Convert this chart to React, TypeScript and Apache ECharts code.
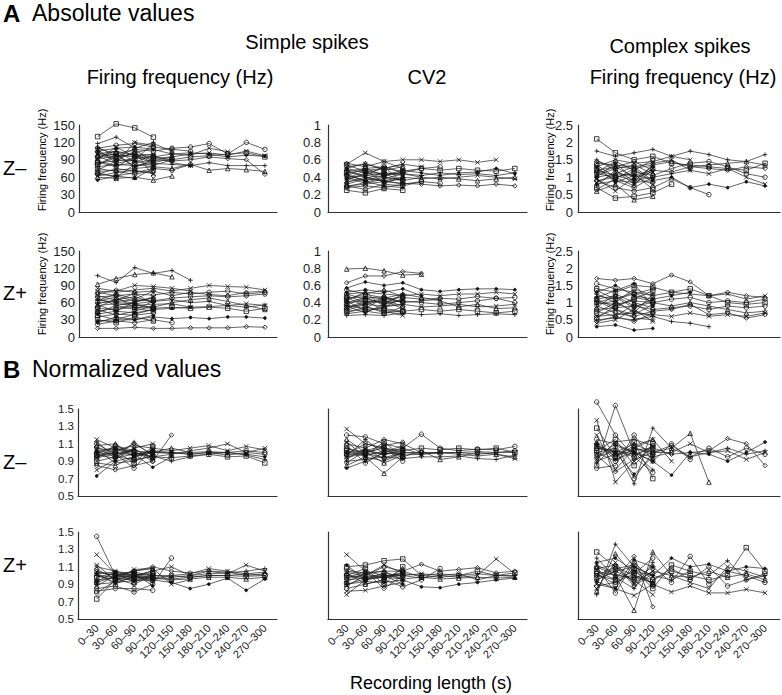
import React, { useEffect, useRef } from 'react';
import * as echarts from 'echarts';

const categories = ['0–30', '30–60', '60–90', '90–120', '120–150', '150–180', '180–210', '210–240', '240–270', '270–300'];

// A: absolute values, simple spikes firing frequency (Hz), Z−
const absSsFreqZminus: number[][] = [
  [95, 100, 108, 105, 110, 112, 118, 100, 120, 108],
  [100, 98, 95, 92, 95, 100, 102, 98, 105, 97],
  [85, 88, 92, 95, 90, 95, 97, 100, 102, 95],
  [78, 82, 80, 84, 82, 80, 85, 80, 80, 80],
  [70, 72, 75, 78, 75, 82, 72, 75, 73, 70],
  [88, 80, 85, 90, 88, 90, 95, 92, 90, 65],
  [105, 110, 112, 108, 100, 102, 100, 95, 98, 96],
  [92, 96, 100, 98, 85, 80],
  [110, 115, 118, 112, 108, 105],
  [65, 62, 68, 75, 72, 82],
  [100, 105, 98, 95, 100, 98, 110, 104],
  [130, 152, 145, 129],
  [118, 129, 110, 120],
  [60, 58, 60, 55, 62],
  [65, 75, 70, 68],
  [100, 90, 88, 80, 90],
  [108, 85, 120, 115],
  [75, 70, 65, 72],
  [82, 95, 100, 85, 92],
  [90, 112, 95, 100],
  [68, 60, 82, 78],
  [110, 100, 78, 88, 95],
  [96, 84, 90, 118, 105],
  [72, 88, 105, 62],
  [55, 62, 58, 75],
  [62, 68, 72, 66],
  [104, 92, 102, 110],
  [86, 78, 96, 84],
  [94, 106, 86, 98],
  [80, 100, 76, 92],
  [112, 96, 108, 86],
];

// A: simple spikes CV2, Z−
const absSsCv2Zminus: number[][] = [
  [0.55, 0.68, 0.58, 0.6, 0.6, 0.58, 0.6, 0.57, 0.6],
  [0.45, 0.48, 0.5, 0.47, 0.5, 0.48, 0.5, 0.48, 0.47, 0.5],
  [0.4, 0.42, 0.45, 0.44, 0.42, 0.45, 0.43, 0.44, 0.42, 0.45],
  [0.35, 0.38, 0.36, 0.4, 0.38, 0.4, 0.38, 0.36, 0.38, 0.4],
  [0.3, 0.32, 0.35, 0.33, 0.32, 0.3, 0.31, 0.3, 0.32, 0.3],
  [0.5, 0.45, 0.42, 0.48, 0.45, 0.42, 0.45, 0.46, 0.5, 0.44],
  [0.38, 0.42, 0.4, 0.36, 0.4, 0.38, 0.4, 0.42, 0.4, 0.38],
  [0.42, 0.5, 0.52, 0.45, 0.5, 0.52],
  [0.28, 0.3, 0.28, 0.32, 0.35, 0.33],
  [0.52, 0.55, 0.5, 0.55, 0.52],
  [0.25, 0.22, 0.27, 0.25],
  [0.48, 0.4, 0.35, 0.38],
  [0.32, 0.38, 0.45, 0.42],
  [0.56, 0.52, 0.58, 0.5],
  [0.44, 0.35, 0.3, 0.28],
  [0.36, 0.45, 0.5, 0.55],
  [0.3, 0.26, 0.32, 0.3, 0.35],
  [0.47, 0.5, 0.42, 0.45],
  [0.4, 0.33, 0.38, 0.44, 0.4],
  [0.54, 0.47, 0.44, 0.36],
  [0.34, 0.4, 0.36, 0.32],
  [0.5, 0.56, 0.48, 0.52],
  [0.42, 0.36, 0.42, 0.46],
  [0.38, 0.48, 0.33, 0.4],
  [0.46, 0.42, 0.52, 0.34],
  [0.29, 0.34, 0.4, 0.37],
];

// A: complex spikes firing frequency (Hz), Z−
const absCsFreqZminus: number[][] = [
  [2.1, 1.7, 1.5, 1.6, 1.4, 1.35, 1.3, 1.25, 1.2, 1.4],
  [1.75, 1.6, 1.7, 1.8, 1.6, 1.75, 1.65, 1.5, 1.45, 1.65],
  [1.2, 1.3, 1.25, 1.35, 1.45, 1.3, 1.35, 1.4, 1.45, 1.35],
  [1.0, 1.1, 1.05, 1.2, 1.15, 1.3, 1.25, 1.2, 1.3, 1.25],
  [0.8, 0.9, 0.85, 0.9, 1.0, 0.7, 0.8, 0.7, 0.87, 0.75],
  [1.4, 1.35, 1.3, 1.4, 1.5, 1.2, 1.1, 1.25, 1.0, 0.8],
  [1.1, 1.0, 1.15, 1.05, 1.25, 1.4, 1.45, 1.3, 1.1, 1.0],
  [0.9, 0.7, 0.6, 0.7, 0.95, 0.7, 0.5],
  [1.3, 1.5, 1.4, 1.45, 1.6, 1.5],
  [0.7, 0.4, 0.45, 0.55, 0.8],
  [1.5, 1.2, 0.9, 1.0, 1.1, 1.2],
  [0.6, 0.8, 0.35, 0.45],
  [1.45, 1.3, 1.45, 1.2],
  [1.0, 1.4, 0.95, 1.3],
  [0.85, 1.1, 1.3, 0.9],
  [1.25, 0.9, 0.7, 1.0],
  [1.15, 1.45, 1.2, 1.5],
  [0.95, 0.6, 1.0, 0.8],
  [1.35, 1.0, 1.1, 0.65],
  [0.75, 1.2, 0.8, 1.2],
  [1.05, 1.25, 1.35, 1.1],
  [0.9, 1.0, 0.75, 1.4],
  [1.3, 0.85, 1.05, 0.95],
  [1.1, 1.3, 1.0, 1.15],
  [0.65, 0.95, 1.25, 0.85],
  [1.2, 1.05, 0.9, 1.25],
];

// A: simple spikes firing frequency (Hz), Z+
const absSsFreqZplus: number[][] = [
  [107, 95, 121, 111, 116, 99],
  [92, 102, 109, 112, 105],
  [15, 15, 17, 15, 15, 16, 16, 16, 18, 17],
  [28, 30, 30, 35, 32, 34, 32, 35, 35, 33],
  [80, 78, 82, 85, 80, 85, 90, 88, 87, 82],
  [70, 72, 75, 73, 78, 75, 78, 80, 75, 78],
  [60, 62, 65, 63, 68, 70, 72, 70, 72, 75],
  [55, 58, 55, 57, 58, 52, 53, 55, 58, 55],
  [50, 48, 52, 50, 52, 50, 52, 50, 45, 50],
  [65, 60, 58, 62, 65, 60, 62, 55, 52, 56],
  [45, 50, 55, 52, 60, 65, 68, 62, 55, 48],
  [75, 82, 78, 80, 72, 78, 74, 72, 78, 80],
  [40, 45, 42, 48, 50, 52],
  [85, 80, 90, 88, 85, 80],
  [22, 28, 25, 30, 25],
  [35, 40, 38, 42],
  [68, 55, 60, 70],
  [30, 25, 35, 28],
  [58, 65, 70, 60],
  [48, 38, 45, 55],
  [78, 72, 62, 68],
  [25, 35, 30, 38],
  [62, 70, 50, 45],
  [52, 66, 58, 50],
  [42, 55, 48, 62],
  [72, 64, 76, 58],
  [38, 30, 40, 48],
  [64, 75, 66, 80],
  [56, 45, 62, 68],
];

// A: simple spikes CV2, Z+
const absSsCv2Zplus: number[][] = [
  [0.79, 0.8, 0.77, 0.72, 0.73],
  [0.63, 0.71, 0.71, 0.76, 0.74],
  [0.57, 0.64, 0.6, 0.63, 0.55, 0.53, 0.55, 0.56, 0.56, 0.55],
  [0.5, 0.52, 0.5, 0.48, 0.5, 0.48, 0.5, 0.5, 0.52, 0.5],
  [0.45, 0.47, 0.44, 0.46, 0.44, 0.45, 0.44, 0.47, 0.45, 0.46],
  [0.4, 0.42, 0.4, 0.42, 0.4, 0.38, 0.4, 0.42, 0.45, 0.4],
  [0.35, 0.38, 0.36, 0.38, 0.35, 0.36, 0.38, 0.35, 0.36, 0.38],
  [0.3, 0.32, 0.33, 0.3, 0.32, 0.3, 0.32, 0.3, 0.28, 0.3],
  [0.25, 0.26, 0.25, 0.28, 0.26, 0.27, 0.25, 0.26, 0.27, 0.26],
  [0.48, 0.4, 0.45, 0.5, 0.46, 0.42, 0.35, 0.38, 0.33, 0.34],
  [0.38, 0.45, 0.47, 0.4, 0.42, 0.44],
  [0.52, 0.55, 0.52, 0.56, 0.48],
  [0.28, 0.35, 0.3, 0.25],
  [0.42, 0.3, 0.35, 0.45],
  [0.55, 0.5, 0.45, 0.4],
  [0.33, 0.4, 0.42, 0.33],
  [0.46, 0.36, 0.28, 0.3],
  [0.36, 0.28, 0.38, 0.5],
  [0.44, 0.5, 0.55, 0.47],
  [0.27, 0.3, 0.27, 0.35],
  [0.4, 0.46, 0.38, 0.43],
  [0.31, 0.38, 0.43, 0.36],
  [0.5, 0.44, 0.4, 0.48],
  [0.37, 0.33, 0.46, 0.41],
  [0.43, 0.52, 0.35, 0.38],
  [0.34, 0.42, 0.31, 0.29],
];

// A: complex spikes firing frequency (Hz), Z+
const absCsFreqZplus: number[][] = [
  [1.7, 1.65, 1.7, 1.55, 1.8, 1.6, 1.2, 1.3, 1.2, 1.15],
  [0.3, 0.35, 0.2, 0.25],
  [1.2, 1.1, 1.3, 1.2, 1.3, 1.25, 1.2, 1.25, 1.1, 1.2],
  [1.0, 0.95, 1.05, 1.0, 1.1, 1.15, 1.0, 1.05, 1.0, 1.1],
  [0.8, 0.85, 0.9, 0.8, 0.85, 0.9, 0.8, 0.9, 0.85, 0.9],
  [0.6, 0.65, 0.7, 0.65, 0.6, 0.7, 0.6, 0.65, 0.6, 0.7],
  [1.4, 1.3, 1.5, 1.45, 1.3, 1.4, 1.2, 1.0, 0.95, 1.0],
  [0.5, 0.55, 0.5, 0.6, 0.45, 0.4, 0.3],
  [1.1, 1.2, 0.9, 1.0, 0.9, 1.0, 0.9, 0.8, 0.7, 0.75],
  [0.9, 0.7, 0.6, 0.75, 0.8, 0.95, 0.65, 0.7, 0.55, 0.65],
  [1.3, 1.5, 1.2, 1.1, 1.2, 1.3],
  [0.4, 0.5, 0.8, 0.45],
  [1.55, 1.4, 1.3, 1.0],
  [0.7, 1.0, 1.4, 1.2],
  [1.05, 0.8, 0.55, 0.5],
  [0.55, 0.9, 1.1, 1.35],
  [1.25, 1.0, 0.75, 0.6],
  [0.85, 1.25, 1.0, 0.85],
  [0.45, 0.6, 0.45, 0.7],
  [1.15, 1.35, 1.55, 0.9],
  [1.0, 1.15, 0.85, 1.1],
  [0.75, 0.6, 0.95, 0.7],
  [1.35, 1.1, 1.25, 1.4],
  [0.6, 0.8, 0.65, 0.95],
  [1.1, 0.85, 1.15, 1.05],
  [0.95, 1.05, 0.7, 1.25],
];

// B: normalized, simple spikes firing frequency, Z−
const normSsFreqZminus: number[][] = [
  [0.73, 0.9, 0.95, 1.0, 1.0, 0.98, 1.0, 1.0, 0.98, 0.95],
  [1.15, 1.05, 1.0, 0.95, 0.98, 1.02, 1.05, 1.1, 1.0, 1.05],
  [1.0, 0.98, 1.02, 1.0, 0.99, 1.0, 1.01, 1.0, 1.02, 1.0],
  [0.95, 1.0, 0.97, 1.02, 1.0, 0.98, 1.0, 0.97, 1.0, 0.98],
  [1.05, 1.02, 1.08, 1.05, 1.02, 1.05, 1.08, 1.02, 1.07, 1.03],
  [0.9, 0.95, 0.92, 0.95, 0.94, 0.96, 0.98, 0.95, 0.96, 0.88],
  [0.98, 0.93, 1.12, 0.96, 0.9, 0.95, 0.98, 1.0, 0.97, 0.92],
  [1.08, 1.1, 0.95, 1.0, 1.05, 1.0],
  [0.85, 0.8, 0.85, 0.9, 1.2],
  [1.02, 1.05, 0.98, 0.83, 0.95],
  [0.8, 0.92, 1.05, 1.1],
  [1.1, 0.98, 0.82, 1.05],
  [0.93, 1.08, 1.02, 0.9],
  [1.03, 0.88, 0.9, 0.97],
  [0.97, 1.02, 0.88, 1.07],
  [1.12, 0.95, 1.04, 0.92],
  [0.88, 0.85, 0.95, 1.02],
  [0.96, 1.0, 1.1, 0.98],
  [1.0, 1.04, 0.96, 1.03],
  [0.94, 0.98, 1.04, 0.94],
  [1.06, 0.94, 0.98, 1.01],
  [0.99, 1.07, 1.0, 0.95],
];

// B: normalized, simple spikes CV2, Z−
const normSsCv2Zminus: number[][] = [
  [1.27, 1.1, 1.05, 1.0, 0.98, 1.0, 1.0, 0.98, 1.0, 1.0],
  [1.2, 1.18, 1.1, 1.05, 1.21, 1.05, 1.02, 1.04, 1.03, 1.07],
  [1.0, 1.02, 0.98, 1.0, 1.0, 0.99, 1.0, 1.01, 1.0, 1.02],
  [0.95, 0.98, 1.0, 0.97, 0.98, 1.0, 0.98, 0.96, 0.98, 0.93],
  [1.05, 1.0, 1.05, 1.02, 1.05, 1.03, 1.05, 1.03, 1.05, 1.0],
  [0.9, 0.92, 0.95, 0.93, 0.95, 0.95, 0.96, 0.93, 0.92, 0.97],
  [0.85, 0.95, 0.76, 0.95, 1.02, 0.92, 0.95, 1.0, 0.98, 0.95],
  [1.1, 1.05, 1.15, 1.1, 1.0, 1.0],
  [0.82, 0.9, 1.0, 1.05, 0.98],
  [1.12, 0.95, 0.9, 1.0],
  [0.98, 1.1, 1.05, 0.9],
  [1.08, 0.88, 1.0, 1.08],
  [0.92, 1.05, 0.92, 1.0],
  [1.02, 0.97, 1.12, 0.95],
  [0.96, 1.15, 0.98, 1.02],
  [1.15, 1.0, 0.88, 0.97],
  [0.88, 1.02, 1.08, 1.12],
  [1.0, 0.96, 1.02, 0.98],
  [0.94, 1.04, 0.97, 1.05],
  [1.04, 0.99, 0.94, 1.0],
  [0.97, 1.0, 1.06, 0.94],
];

// B: normalized, complex spikes firing frequency, Z−
const normCsFreqZminus: number[][] = [
  [1.58, 1.2, 0.95, 0.77],
  [0.85, 1.54, 1.0, 0.95, 1.0],
  [1.37, 0.66, 0.9, 1.05],
  [1.28, 0.95, 1.12, 0.7],
  [1.0, 1.05, 0.64, 1.28, 1.05, 0.95, 1.0, 1.05, 0.98, 1.02],
  [1.05, 1.0, 1.1, 1.0, 1.05, 1.22, 0.66],
  [0.95, 1.02, 0.98, 1.05, 0.98, 1.0, 1.02, 1.16, 1.1, 0.85],
  [1.1, 0.92, 1.0, 0.9, 0.74, 1.0, 0.98, 0.9, 1.0, 1.12],
  [0.9, 0.98, 1.05, 1.0, 1.0, 1.1, 1.0, 1.02, 0.92, 1.0],
  [1.15, 1.1, 0.7, 1.0, 1.08, 0.95, 1.05, 0.95, 1.05, 0.98],
  [0.82, 0.85, 1.2, 0.9, 1.1, 0.92],
  [1.2, 0.8, 1.05, 1.15, 0.9],
  [1.02, 1.15, 0.85, 1.1],
  [0.88, 1.08, 1.0, 0.8],
  [1.12, 0.95, 1.08, 1.15],
  [0.97, 0.78, 0.92, 1.0],
  [1.08, 1.0, 0.75, 0.95],
  [0.92, 1.12, 1.15, 1.08],
  [1.0, 0.9, 1.05, 0.98],
  [1.05, 1.02, 0.95, 1.08],
  [0.95, 1.1, 1.0, 0.9],
  [1.08, 0.96, 1.03, 1.05],
];

// B: normalized, simple spikes firing frequency, Z+
const normSsFreqZplus: number[][] = [
  [1.45, 1.0, 0.98, 1.0, 1.0, 0.98, 1.0, 1.0, 1.02, 1.0],
  [1.24, 1.02, 1.0, 1.05, 1.1, 1.0, 1.05, 1.02, 1.12, 1.05],
  [0.73, 0.95, 0.97, 0.98, 0.96, 0.98, 1.0, 1.0, 0.99, 1.0],
  [1.0, 0.98, 1.02, 1.0, 0.98, 1.0, 1.02, 1.03, 1.05, 1.08],
  [0.95, 0.97, 0.95, 0.97, 0.95, 0.96, 0.98, 0.98, 0.96, 0.98],
  [1.05, 1.0, 1.05, 1.1, 1.05, 1.03, 1.05, 1.04, 1.0, 1.02],
  [0.9, 0.92, 0.94, 0.95, 0.92, 0.85, 0.9, 0.97, 0.83, 0.96],
  [1.1, 1.05, 1.0, 0.95, 1.0, 1.02, 1.08, 1.05, 1.02, 1.04],
  [0.85, 0.88, 0.81, 0.9, 1.2],
  [0.82, 0.85, 0.85, 0.83],
  [1.12, 0.95, 1.07, 1.08, 0.9, 0.95],
  [0.98, 1.03, 0.92, 1.02],
  [1.03, 0.9, 1.0, 0.92],
  [0.88, 1.0, 1.05, 1.08],
  [1.07, 0.96, 0.9, 1.0],
  [0.93, 1.04, 1.03, 0.88],
  [1.01, 0.92, 0.98, 1.06],
  [0.8, 0.94, 1.02, 0.97],
  [0.99, 0.96, 1.0, 1.03],
  [1.04, 1.0, 0.97, 0.99],
  [0.92, 0.99, 1.04, 1.0],
  [1.02, 1.04, 0.98, 0.94],
];

// B: normalized, simple spikes CV2, Z+
const normSsCv2Zplus: number[][] = [
  [1.24, 1.05, 1.0, 1.0, 1.02, 1.0, 0.98, 1.0, 1.19, 1.02],
  [1.1, 1.12, 1.17, 1.19, 1.0, 1.02, 1.0, 1.05, 1.0, 1.03],
  [1.0, 0.98, 1.0, 1.02, 1.0, 0.98, 1.0, 1.02, 1.0, 1.0],
  [0.95, 0.97, 0.98, 0.96, 0.98, 0.96, 0.97, 0.98, 0.97, 0.98],
  [1.05, 1.03, 1.05, 1.05, 1.13, 1.05, 1.07, 1.09, 1.03, 1.05],
  [0.9, 0.93, 0.92, 0.95, 0.87, 0.86, 0.9, 0.92, 0.95, 0.97],
  [0.78, 0.95, 0.98, 1.0, 0.97, 1.0, 1.02, 0.95, 1.0, 0.99],
  [0.85, 0.9, 0.95, 0.87, 0.95, 1.08],
  [1.08, 1.0, 1.1, 1.05, 0.98],
  [0.82, 0.83, 0.88, 0.92],
  [1.0, 1.08, 0.9, 1.1],
  [0.93, 1.02, 1.05, 0.95],
  [1.03, 0.9, 0.95, 1.08],
  [0.97, 1.05, 0.85, 1.0],
  [1.12, 0.95, 1.0, 0.9],
  [0.88, 1.0, 1.12, 1.03],
  [1.0, 0.96, 1.03, 0.99],
  [0.96, 1.02, 0.97, 1.04],
  [1.04, 0.99, 1.01, 0.96],
  [0.9, 0.96, 0.99, 1.02],
];

// B: normalized, complex spikes firing frequency, Z+
const normCsFreqZplus: number[][] = [
  [1.27, 1.1, 1.0, 0.95, 1.05, 1.0, 0.95, 1.0, 1.32, 1.05],
  [0.78, 1.36, 1.1, 1.0, 0.95, 1.05, 1.0, 1.17, 0.95, 1.0],
  [1.05, 1.0, 0.6, 1.27, 1.0, 0.98, 1.05, 0.98, 1.02, 0.95],
  [1.0, 0.95, 1.22, 0.64],
  [1.15, 1.2, 1.05, 1.0, 1.2, 1.1, 1.13, 1.05, 1.1, 1.08],
  [0.9, 0.85, 0.77, 0.9, 0.81, 0.88, 0.8, 0.8, 0.84, 0.8],
  [0.95, 1.05, 0.95, 1.1, 0.92, 1.22, 0.9, 1.05, 1.0, 0.92],
  [1.1, 0.8, 1.15, 0.95, 1.08, 0.95, 1.1, 0.88, 0.95, 1.02],
  [0.85, 1.15, 0.9, 1.05, 1.0, 0.92, 0.85, 1.1, 1.05, 0.98],
  [1.02, 0.9, 1.08, 0.85, 1.12, 1.05],
  [1.2, 0.98, 0.85, 1.15],
  [0.82, 1.25, 1.0, 0.92],
  [1.08, 1.12, 0.88, 1.02],
  [0.93, 0.85, 1.18, 1.1],
  [1.12, 1.02, 0.95, 0.78],
  [0.98, 1.08, 1.12, 0.88],
  [0.88, 0.92, 1.02, 1.2],
  [1.0, 1.1, 0.92, 1.05],
  [1.05, 0.95, 1.05, 0.9],
  [0.95, 1.05, 1.1, 1.0],
  [1.1, 1.0, 0.98, 0.92],
];

const absFreqTicks = { min: 0, max: 150, interval: 30 };
const cv2Ticks = { min: 0, max: 1, interval: 0.2 };
const csFreqTicks = { min: 0, max: 2.5, interval: 0.5 };
const normTicks = { min: 0.5, max: 1.5, interval: 0.2 };

const panelData = [
  [absSsFreqZminus, absSsCv2Zminus, absCsFreqZminus],
  [absSsFreqZplus, absSsCv2Zplus, absCsFreqZplus],
  [normSsFreqZminus, normSsCv2Zminus, normCsFreqZminus],
  [normSsFreqZplus, normSsCv2Zplus, normCsFreqZplus],
];
const panelTicks = [
  [absFreqTicks, cv2Ticks, csFreqTicks],
  [absFreqTicks, cv2Ticks, csFreqTicks],
  [normTicks, normTicks, normTicks],
  [normTicks, normTicks, normTicks],
];

// layout
const rowTop = [125, 251, 409, 532];
const rowHeight = [87, 86, 87, 87];
const colLeft = [[79, 328, 578], [79, 328, 578], [78, 328, 578], [78, 328, 578]];
const colWidth = [[198, 199, 202], [198, 199, 202], [199, 199, 202], [199, 199, 202]];
const colXMax = [9.65, 9.65, 9.8];
const labelMargin = [4, 7, 5];

const FONT = '"Liberation Sans", Arial, Helvetica, sans-serif';
const symbolCycle = ['circle', 'x', 'rect', 'plus', 'triangle', 'diamond', 'dot', 'x', 'circle'];
const symbolPaths: Record<string, string> = {
  x: 'path://M0,0L10,10M0,10L10,0',
  plus: 'path://M5,0L5,10M0,5L10,5',
};

export default function App() {
  const ref = useRef<HTMLDivElement>(null);
  useEffect(() => {
    if (!ref.current) return;
    const chart = echarts.init(ref.current, undefined, { renderer: 'svg' });
    const grids: any[] = [];
    const xAxes: any[] = [];
    const yAxes: any[] = [];
    const series: any[] = [];
    let idx = 0;
    for (let r = 0; r < 4; r++) {
      for (let c = 0; c < 3; c++) {
        const t = panelTicks[r][c];
        grids.push({ left: colLeft[r][c], top: rowTop[r], width: colWidth[r][c], height: rowHeight[r], containLabel: false });
        xAxes.push({
          type: 'value', gridIndex: idx, min: -1, max: colXMax[c], interval: 1,
          axisLine: { show: true, onZero: false, lineStyle: { color: '#333', width: 1.2 } },
          axisTick: { show: false }, splitLine: { show: false },
          axisLabel: {
            show: r === 3, rotate: 45, margin: 7, fontSize: 11, color: '#222', fontFamily: FONT,
            formatter: (v: number) => (Number.isInteger(v) && v >= 0 && v < categories.length ? categories[v] : ''),
          },
        });
        yAxes.push({
          type: 'value', gridIndex: idx, min: t.min, max: t.max, interval: t.interval,
          axisLine: { show: true, onZero: false, lineStyle: { color: '#333', width: 1.2 } },
          axisTick: { show: false }, splitLine: { show: false },
          axisLabel: {
            show: r < 2 || c === 0, margin: labelMargin[c], fontSize: r < 2 ? 13 : 11.5, color: '#222', fontFamily: FONT,
            formatter: (v: number) => String(Math.round(v * 100) / 100),
          },
        });
        panelData[r][c].forEach((line, li) => {
          const sym = symbolCycle[(li + idx) % symbolCycle.length];
          const isDot = sym === 'dot';
          series.push({
            type: 'line', xAxisIndex: idx, yAxisIndex: idx,
            data: line.map((v, i) => [i, v]),
            symbol: symbolPaths[sym] || (isDot ? 'circle' : sym),
            symbolSize: isDot ? 2.8 : 4.5,
            showSymbol: true, showAllSymbol: true, clip: false, silent: true,
            lineStyle: { color: '#222', width: 0.7 },
            itemStyle: { color: isDot ? '#111' : 'rgba(0,0,0,0)', borderColor: '#111', borderWidth: 0.8 },
            emphasis: { disabled: true },
          });
        });
        idx++;
      }
    }
    const txt = (text: string, x: number, y: number, size: number, align = 'center', weight = 'normal', rotation = 0) => ({
      type: 'text', x, y, rotation, silent: true,
      style: { text, font: `${weight} ${size}px ${FONT}`, fill: '#000', align, verticalAlign: 'middle' },
    });
    const graphic = [
      txt('A', 3, 13, 24, 'left', 'bold'),
      txt('Absolute values', 32, 13, 23, 'left'),
      txt('Simple spikes', 307, 42, 20),
      txt('Firing frequency (Hz)', 180, 77, 20),
      txt('CV2', 427, 77, 20),
      txt('Complex spikes', 680, 46, 20),
      txt('Firing frequency (Hz)', 683, 77, 20),
      txt('Z–', 3, 168, 20, 'left'),
      txt('Z+', 3, 293, 20, 'left'),
      txt('B', 3, 369, 24, 'left', 'bold'),
      txt('Normalized values', 32, 369, 23, 'left'),
      txt('Z–', 3, 462, 20, 'left'),
      txt('Z+', 3, 565, 20, 'left'),
      txt('Firing frequency (Hz)', 42, 160, 11, 'center', 'normal', Math.PI / 2),
      txt('Firing frequency (Hz)', 42, 284, 11, 'center', 'normal', Math.PI / 2),
      txt('Firing frequency (Hz)', 550, 160, 11, 'center', 'normal', Math.PI / 2),
      txt('Firing frequency (Hz)', 550, 284, 11, 'center', 'normal', Math.PI / 2),
      txt('Recording length (s)', 431, 683, 18),
    ];
    chart.setOption({
      animation: false,
      backgroundColor: '#fff',
      grid: grids,
      xAxis: xAxes,
      yAxis: yAxes,
      series,
      graphic,
    });
    return () => chart.dispose();
  }, []);
  return <div ref={ref} style={{ position: 'fixed', left: 0, top: 0, width: 782, height: 695 }} />;
}
